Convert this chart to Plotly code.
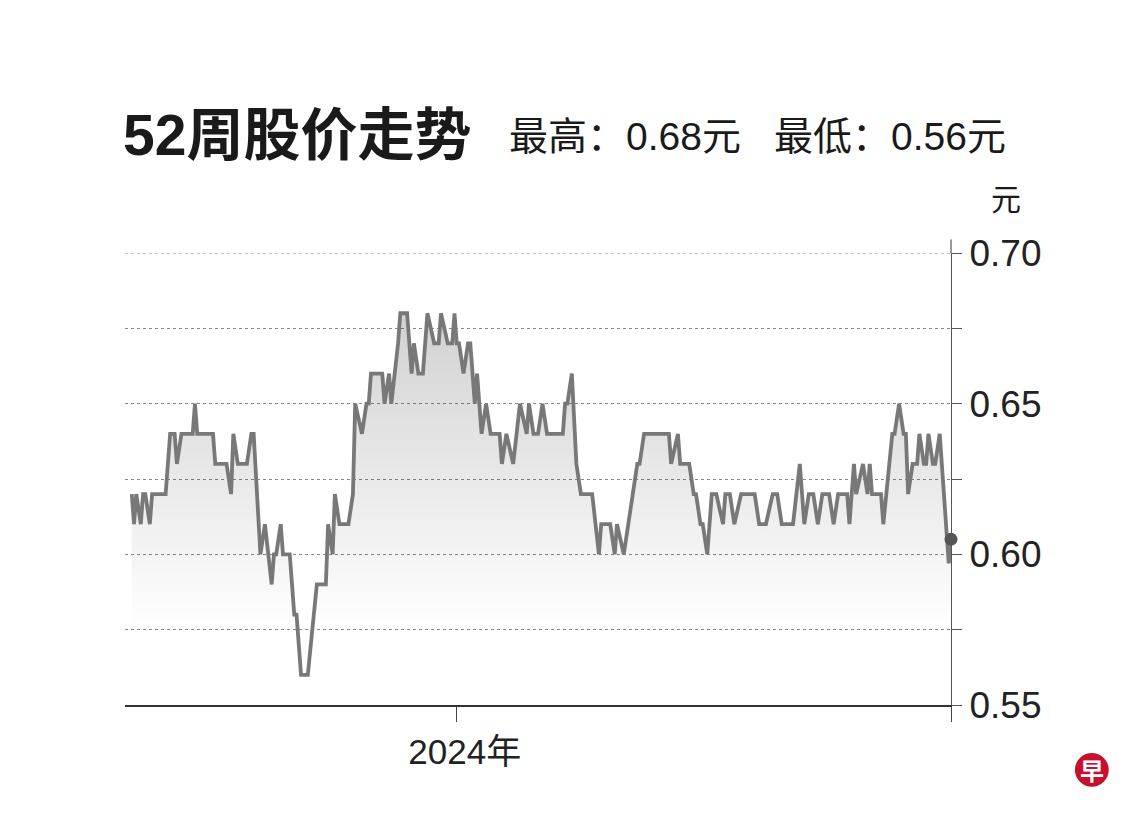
import plotly.graph_objects as go

# ---- data ----
dates = [
    "2023-08-10", "2023-08-11", "2023-08-12", "2023-08-14", "2023-08-15", "2023-08-16", "2023-08-18", "2023-08-19",
    "2023-08-25", "2023-08-27", "2023-08-29", "2023-08-30", "2023-09-01", "2023-09-06", "2023-09-07", "2023-09-08",
    "2023-09-15", "2023-09-16", "2023-09-21", "2023-09-23", "2023-09-24", "2023-09-26", "2023-09-30", "2023-10-02",
    "2023-10-03", "2023-10-05", "2023-10-06", "2023-10-08", "2023-10-11", "2023-10-12", "2023-10-13", "2023-10-15",
    "2023-10-16", "2023-10-19", "2023-10-21", "2023-10-22", "2023-10-24", "2023-10-27", "2023-10-31", "2023-11-04",
    "2023-11-05", "2023-11-07", "2023-11-08", "2023-11-10", "2023-11-14", "2023-11-16", "2023-11-17", "2023-11-20",
    "2023-11-22", "2023-11-23", "2023-11-24", "2023-11-29", "2023-11-30", "2023-12-02", "2023-12-03", "2023-12-06",
    "2023-12-07", "2023-12-10", "2023-12-12", "2023-12-13", "2023-12-15", "2023-12-17", "2023-12-19", "2023-12-22",
    "2023-12-24", "2023-12-25", "2023-12-28", "2023-12-30", "2023-12-31", "2024-01-01", "2024-01-02", "2024-01-04",
    "2024-01-06", "2024-01-07", "2024-01-09", "2024-01-10", "2024-01-12", "2024-01-14", "2024-01-16", "2024-01-20",
    "2024-01-21", "2024-01-23", "2024-01-26", "2024-01-29", "2024-02-01", "2024-02-02", "2024-02-04", "2024-02-06",
    "2024-02-08", "2024-02-10", "2024-02-17", "2024-02-18", "2024-02-19", "2024-02-21", "2024-02-23", "2024-02-25",
    "2024-03-01", "2024-03-04", "2024-03-05", "2024-03-09", "2024-03-11", "2024-03-12", "2024-03-15", "2024-03-17",
    "2024-03-21", "2024-03-22", "2024-03-24", "2024-04-04", "2024-04-05", "2024-04-08", "2024-04-09", "2024-04-13",
    "2024-04-15", "2024-04-16", "2024-04-18", "2024-04-19", "2024-04-21", "2024-04-23", "2024-04-25", "2024-04-28",
    "2024-04-29", "2024-05-01", "2024-05-03", "2024-05-06", "2024-05-12", "2024-05-14", "2024-05-17", "2024-05-20",
    "2024-05-22", "2024-05-24", "2024-05-29", "2024-06-01", "2024-06-03", "2024-06-05", "2024-06-07", "2024-06-09",
    "2024-06-11", "2024-06-14", "2024-06-16", "2024-06-18", "2024-06-22", "2024-06-23", "2024-06-25", "2024-06-26",
    "2024-06-29", "2024-07-01", "2024-07-02", "2024-07-03", "2024-07-07", "2024-07-08", "2024-07-12", "2024-07-13",
    "2024-07-15", "2024-07-17", "2024-07-18", "2024-07-19", "2024-07-21", "2024-07-23", "2024-07-24", "2024-07-26",
    "2024-07-27", "2024-07-28", "2024-07-30", "2024-07-31", "2024-08-02", "2024-08-06", "2024-08-07",
]
prices = [
    0.62, 0.61, 0.62, 0.61, 0.62, 0.62, 0.61, 0.62,
    0.62, 0.64, 0.64, 0.63, 0.64, 0.64, 0.65, 0.64,
    0.64, 0.63, 0.63, 0.62, 0.64, 0.63, 0.63, 0.64,
    0.64, 0.61, 0.60, 0.61, 0.59, 0.60, 0.60, 0.61,
    0.60, 0.60, 0.58, 0.58, 0.56, 0.56, 0.59, 0.59,
    0.61, 0.60, 0.62, 0.61, 0.61, 0.62, 0.65, 0.64,
    0.65, 0.65, 0.66, 0.66, 0.65, 0.66, 0.65, 0.67,
    0.68, 0.68, 0.66, 0.67, 0.66, 0.66, 0.68, 0.67,
    0.67, 0.68, 0.67, 0.67, 0.68, 0.67, 0.67, 0.66,
    0.67, 0.67, 0.65, 0.66, 0.64, 0.65, 0.64, 0.64,
    0.63, 0.64, 0.63, 0.65, 0.64, 0.65, 0.64, 0.64,
    0.65, 0.64, 0.64, 0.65, 0.65, 0.66, 0.63, 0.62,
    0.62, 0.60, 0.61, 0.61, 0.60, 0.61, 0.60, 0.61,
    0.63, 0.63, 0.64, 0.64, 0.63, 0.64, 0.63, 0.63,
    0.62, 0.62, 0.61, 0.61, 0.60, 0.62, 0.62, 0.61,
    0.62, 0.62, 0.61, 0.62, 0.62, 0.61, 0.61, 0.62,
    0.62, 0.61, 0.61, 0.63, 0.61, 0.62, 0.62, 0.61,
    0.62, 0.62, 0.61, 0.62, 0.62, 0.61, 0.63, 0.62,
    0.63, 0.62, 0.63, 0.62, 0.62, 0.61, 0.64, 0.64,
    0.65, 0.64, 0.64, 0.62, 0.63, 0.63, 0.64, 0.63,
    0.63, 0.64, 0.63, 0.63, 0.64, 0.597, 0.605,
]

title_text = "52周股价走势"
high_text = "最高：0.68元"
low_text = "最低：0.56元"
unit_text = "元"
x_range = ["2023-08-07", "2024-08-07"]
x_tickvals = ["2024-01-01", "2024-08-07"]
x_ticktext = ["2024年", ""]
y_range = [0.55, 0.70]
y_tickvals = [0.55, 0.575, 0.60, 0.625, 0.65, 0.675, 0.70]
y_ticktext = ["0.55", "", "0.60", "", "0.65", "", "0.70"]

LATIN = "Liberation Sans, Arial, Noto Sans CJK SC, sans-serif"
CJK = "Noto Sans CJK SC, sans-serif"

fig = go.Figure()

fig.add_trace(go.Scatter(
    x=dates, y=prices, mode="lines",
    line=dict(color="#787878", width=3.8, shape="linear"),
    fill="tozeroy",
    fillgradient=dict(type="vertical",
                      colorscale=[[0, "rgba(0,0,0,0)"], [1, "rgba(0,0,0,0.18)"]],
                      start=0.575, stop=0.68),
    hoverinfo="skip", showlegend=False,
))

fig.add_trace(go.Scatter(
    x=[dates[-1]], y=[prices[-1]], mode="markers",
    marker=dict(color="#555555", size=13),
    cliponaxis=False,
    hoverinfo="skip", showlegend=False,
))

# page body has an 8px margin: the figure is sized so it fits the 1140x820 window
fig.update_layout(
    width=1124, height=804,
    margin=dict(l=117, r=181, t=245, b=107),
    paper_bgcolor="white", plot_bgcolor="white",
    font=dict(family=LATIN, color="#222222"),
    xaxis=dict(
        type="date", range=x_range,
        tickvals=x_tickvals, ticktext=x_ticktext,
        ticks="outside", ticklen=15, tickwidth=1.2, tickcolor="#444444",
        tickfont=dict(size=35, family=LATIN, color="#222222"),
        ticklabelshift=8,
        showline=True, linecolor="#333333", linewidth=1.5,
        showgrid=False, zeroline=False,
    ),
    yaxis=dict(
        side="right", range=y_range,
        tickvals=y_tickvals, ticktext=y_ticktext,
        ticks="outside", ticklen=10, tickwidth=1.2, tickcolor="#555555",
        tickfont=dict(size=37, family=LATIN, color="#222222"),
        showline=True, linecolor="#555555", linewidth=1.2,
        showgrid=True, gridcolor="#888888", gridwidth=1, griddash="dot",
        zeroline=False,
    ),
)

# top gridline (at the range edge) drawn explicitly
fig.add_shape(type="line", xref="paper", yref="y",
              x0=0, x1=1, y0=y_range[1], y1=y_range[1],
              line=dict(color="#888888", width=1, dash="dot"), layer="below")

# extension of the right axis line above the plot
fig.add_shape(type="line", xref="paper", yref="paper",
              x0=1, x1=1, y0=1, y1=1.03,
              line=dict(color="#555555", width=1.2))

# title & subtitle
fig.add_annotation(text="<b>" + title_text + "</b>", xref="paper", yref="paper",
                   x=-0.005, y=1.262, xanchor="left", yanchor="middle",
                   showarrow=False, font=dict(size=57, family=LATIN, color="#1a1a1a"))
fig.add_annotation(text=high_text, xref="paper", yref="paper",
                   x=0.4625, y=1.258, xanchor="left", yanchor="middle",
                   showarrow=False, font=dict(size=39, family=LATIN, color="#1a1a1a"))
fig.add_annotation(text=low_text, xref="paper", yref="paper",
                   x=0.783, y=1.258, xanchor="left", yanchor="middle",
                   showarrow=False, font=dict(size=39, family=LATIN, color="#1a1a1a"))
fig.add_annotation(text=unit_text, xref="paper", yref="paper",
                   x=1.066, y=1.124, xanchor="center", yanchor="middle",
                   showarrow=False, font=dict(size=30, family=CJK, color="#1a1a1a"))

# logo
fig.add_shape(type="circle", xref="paper", yref="paper",
              x0=1.150, x1=1.191, y0=-0.181, y1=-0.106,
              fillcolor="#c8102e", line=dict(width=0))
fig.add_annotation(text="<b>早</b>", xref="paper", yref="paper",
                   x=1.1707, y=-0.1438, xanchor="center", yanchor="middle",
                   showarrow=False, font=dict(size=24, family=CJK, color="white"))

fig.write_html("out.html")
